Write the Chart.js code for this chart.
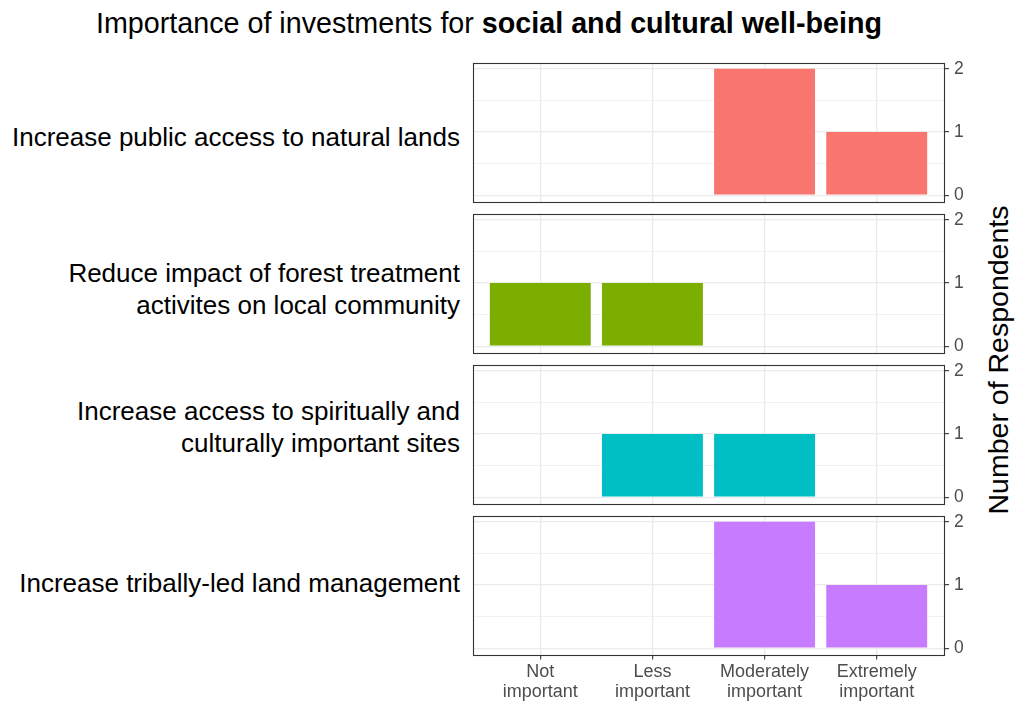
<!DOCTYPE html>
<html>
<head>
<meta charset="utf-8">
<script src="https://cdn.jsdelivr.net/npm/chart.js@4.4.1/dist/chart.umd.min.js"></script>
<style>
  html, body { margin: 0; padding: 0; background: #fff; }
  body { width: 1016px; height: 703px; position: relative; overflow: hidden; font-family: "Liberation Sans", Arial, sans-serif; }
  #title { position: absolute; left: 96px; top: 7px; font-size: 28.7px; color: #000; white-space: nowrap; }
  .lab { position: absolute; right: 556px; text-align: right; font-size: 26px; line-height: 32px; color: #000; white-space: nowrap; transform: translateY(-50%); }
  .cv { position: absolute; }
  #ytitle { position: absolute; left: 998px; top: 360px; transform: translate(-50%, -50%) rotate(-90deg); font-size: 28.5px; color: #000; white-space: nowrap; }
</style>
</head>
<body>
<div id="title">Importance of investments for <b>social and cultural well-being</b></div>
<div id="ytitle">Number of Respondents</div>
<div id="labels"></div>
<div id="charts"></div>
<script>
// ---- Data ----
const categories = [["Not", "important"], ["Less", "important"], ["Moderately", "important"], ["Extremely", "important"]];
const items = [
  ["Increase public access to natural lands"],
  ["Reduce impact of forest treatment", "activites on local community"],
  ["Increase access to spiritually and", "culturally important sites"],
  ["Increase tribally-led land management"]
];
const publicAccess = [0, 0, 2, 1];
const forestTreatment = [1, 1, 0, 0];
const spiritualSites = [0, 1, 1, 0];
const tribalManagement = [0, 0, 2, 1];
const seriesValues = [publicAccess, forestTreatment, spiritualSites, tribalManagement];
const colors = ["#F8766D", "#7CAE00", "#00BFC4", "#C77CFF"];
const yTicks = [0, 0.5, 1, 1.5, 2];

// ---- Layout ----
const panelLeft = 473, panelW = 471, panelH = 139;
const panelTops = [62, 213, 364, 515];
const labelCenters = [137, 289, 427, 583];
const yAxisW = 60;

const labelsDiv = document.getElementById('labels');
items.forEach((lines, i) => {
  const d = document.createElement('div');
  d.className = 'lab';
  d.style.top = labelCenters[i] + 'px';
  d.innerHTML = lines.join('<br>');
  labelsDiv.appendChild(d);
});

const borderPlugin = {
  id: 'panelBorder',
  afterDraw(chart) {
    const a = chart.chartArea, ctx = chart.ctx;
    ctx.save();
    ctx.strokeStyle = '#333333';
    ctx.lineWidth = 1.1;
    ctx.strokeRect(Math.round(a.left) + 0.5, Math.round(a.top) + 0.5, Math.round(a.right - a.left), Math.round(a.bottom - a.top));
    ctx.restore();
  }
};

const chartsDiv = document.getElementById('charts');
seriesValues.forEach((vals, i) => {
  const isBottom = i === seriesValues.length - 1;
  const xAxisH = isBottom ? 52 : 0;
  let w = 10 + panelW + yAxisW;
  let h = 24 + panelH + xAxisH;
  const cv = document.createElement('canvas');
  cv.className = 'cv';
  cv.width = w; cv.height = h;
  cv.style.width = w + 'px'; cv.style.height = h + 'px';
  chartsDiv.appendChild(cv);

  const chart = new Chart(cv, {
    type: 'bar',
    data: {
      datasets: [{
        data: vals.map((v, k) => ({ x: k + 1, y: v })),
        backgroundColor: colors[i],
        borderWidth: 0,
        barPercentage: 0.9,
        categoryPercentage: 1.0
      }]
    },
    options: {
      responsive: false,
      maintainAspectRatio: false,
      animation: false,
      events: [],
      layout: { padding: { left: 6, top: 2, right: 0, bottom: 2 } },
      plugins: { legend: { display: false }, tooltip: { enabled: false }, title: { display: false } },
      scales: {
        x: {
          type: 'linear',
          offset: false,
          min: 0.4, max: 4.6,
          afterBuildTicks(s) { s.ticks = categories.map((c, k) => ({ value: k + 1 })); },
          afterFit(s) { s.height = xAxisH; },
          border: { display: false },
          grid: {
            offset: false,
            color: '#ebebeb', lineWidth: 1.3,
            drawTicks: isBottom, tickLength: 5, tickColor: '#333333', tickWidth: 1.1
          },
          ticks: {
            display: isBottom,
            autoSkip: false, maxRotation: 0, minRotation: 0,
            padding: 3,
            color: '#4d4d4d',
            font: { family: '"Liberation Sans", Arial, sans-serif', size: 18, lineHeight: 1.08 },
            callback: (v) => categories[Math.round(v) - 1]
          }
        },
        y: {
          type: 'linear',
          position: 'right',
          min: -0.1, max: 2.1,
          afterBuildTicks(s) { s.ticks = yTicks.map(v => ({ value: v })); },
          afterFit(s) { s.width = yAxisW; },
          border: { display: false },
          grid: {
            color: '#ebebeb',
            lineWidth: (c) => (c.tick && Number.isInteger(c.tick.value)) ? 1.3 : 0.65,
            drawTicks: true, tickLength: 5, tickWidth: 1.1,
            tickColor: (c) => (c.tick && Number.isInteger(c.tick.value)) ? '#333333' : 'rgba(0,0,0,0)'
          },
          ticks: {
            padding: 5,
            color: '#4d4d4d',
            font: { family: '"Liberation Sans", Arial, sans-serif', size: 17.5 },
            callback: (v) => Number.isInteger(v) ? String(v) : ''
          }
        }
      }
    },
    plugins: [borderPlugin]
  });

  // calibrate canvas size so that the plot area is exactly panelW x panelH
  let a = chart.chartArea;
  const dw = panelW - (a.right - a.left);
  const dh = panelH - (a.bottom - a.top);
  if (dw !== 0 || dh !== 0) {
    w += dw; h += dh;
    chart.resize(w, h);
    a = chart.chartArea;
  }
  cv.style.left = (panelLeft - a.left) + 'px';
  cv.style.top = (panelTops[i] - a.top) + 'px';
});
</script>
</body>
</html>
